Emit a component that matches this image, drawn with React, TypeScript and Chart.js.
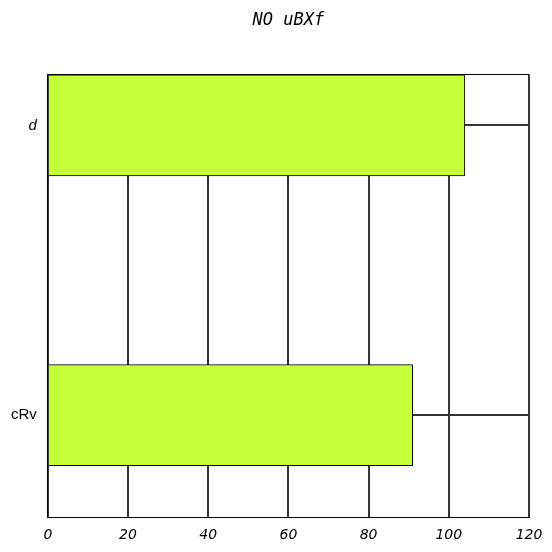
import { useEffect, useRef } from "react";
import { Chart, registerables } from "chart.js";

Chart.register(...registerables);

const titleText = "NO uBXf";
const categories = ["d", "cRv"];
const values = [104, 91];
const xTicks = [0, 20, 40, 60, 80, 100, 120];
const italicCategories = ["d"];

export default function App() {
  const ref = useRef<HTMLCanvasElement>(null);
  useEffect(() => {
    const yMin = -0.176;
    const yMax = 1.352;
    const chart = new Chart(ref.current!, {
      type: "bar",
      data: {
        datasets: [
          {
            data: values.map((v, i) => ({ x: v, y: i })),
            backgroundColor: "#c5ff37",
            borderColor: "#000000",
            borderWidth: 1,
            barThickness: 101,
          },
        ],
      },
      options: {
        indexAxis: "y",
        animation: false,
        responsive: true,
        maintainAspectRatio: false,
        layout: { padding: { right: 15 } },
        plugins: {
          legend: { display: false },
          tooltip: { enabled: false },
          title: {
            display: true,
            text: titleText,
            fullSize: false,
            color: "#000000",
            font: { family: "DejaVu Sans Mono", size: 17, style: "italic", weight: "normal" },
            padding: { top: 2, bottom: 44 },
          },
        },
        scales: {
          x: {
            type: "linear",
            min: xTicks[0],
            max: xTicks[xTicks.length - 1],
            afterBuildTicks: (s: any) => {
              s.ticks = xTicks.map((v) => ({ value: v }));
            },
            grid: {
              color: "#333333",
              lineWidth: 2,
              drawTicks: true,
              tickLength: 10,
              tickColor: "rgba(0,0,0,0)",
            },
            border: { color: "#000000", width: 1 },
            ticks: {
              padding: 0,
              color: "#000000",
              font: { family: "DejaVu Sans", size: 14, style: "italic" },
            },
          },
          y: {
            type: "linear",
            reverse: true,
            offset: false,
            min: yMin,
            max: yMax,
            afterBuildTicks: (s: any) => {
              s.ticks = [{ value: yMin }, ...categories.map((_, i) => ({ value: i }))];
            },
            grid: {
              offset: false,
              drawTicks: true,
              tickLength: 8,
              tickColor: "rgba(0,0,0,0)",
              color: (ctx: any) => (ctx.tick && ctx.tick.value === yMin ? "#000000" : "#333333"),
              lineWidth: (ctx: any) => (ctx.tick && ctx.tick.value === yMin ? 1 : 2),
            },
            border: { color: "#000000", width: 1 },
            ticks: {
              padding: 3,
              color: "#000000",
              callback: (v: any) => (Number.isInteger(v) ? categories[v] : ""),
              font: (ctx: any) => {
                const lab = ctx.tick && Number.isInteger(ctx.tick.value) ? categories[ctx.tick.value] : "";
                return {
                  family: "Liberation Sans",
                  size: 15,
                  style: italicCategories.includes(lab) ? "italic" : "normal",
                };
              },
            },
          },
        },
      },
    });
    return () => chart.destroy();
  }, []);
  return (
    <div style={{ width: 536, height: 536, position: "relative" }}>
      <canvas ref={ref} />
    </div>
  );
}
